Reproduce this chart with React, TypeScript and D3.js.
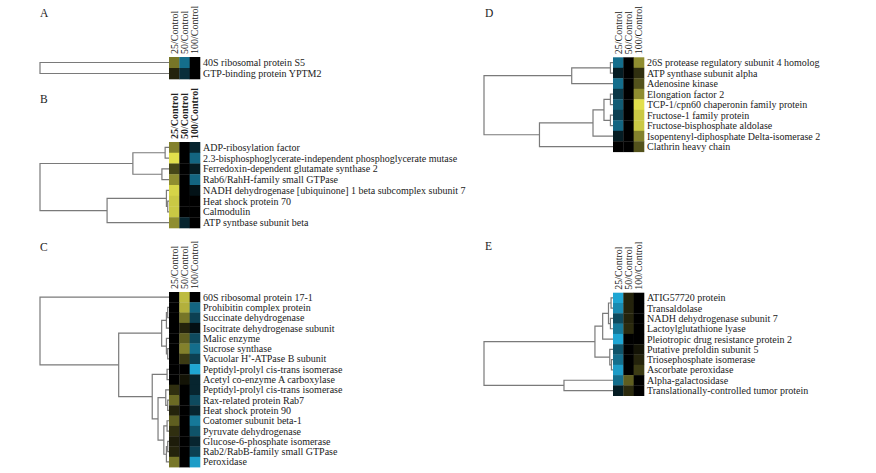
import * as d3 from 'd3'

type Node = number | [number, Node, Node]

const conditions = ['25/Control', '50/Control', '100/Control']

// A
const proteinsA = ['40S ribosomal protein S5', 'GTP-binding protein YPTM2']
const valuesA = [[0.5, -0.6, 0], [0.15, -0.25, 0]]
const treeA: Node = [1, 0, 1]

// B
const proteinsB = [
  'ADP-ribosylation factor',
  '2.3-bisphosphoglycerate-independent phosphoglycerate mutase',
  'Ferredoxin-dependent glutamate synthase 2',
  'Rab6/RahH-family small GTPase',
  'NADH dehydrogenase [ubiquinone] 1 beta subcomplex subunit 7',
  'Heat shock protein 70',
  'Calmodulin',
  'ATP syntbase subunit beta'
]
const valuesB = [
  [0.55, 0, -0.2], [0.95, 0, -0.55], [0.3, 0, -0.15], [0.6, 0, -0.55],
  [0.9, 0, -0.1], [0.85, 0, 0], [0.85, 0, 0], [0.6, -0.2, 0]
]
const treeB: Node = [1, [0.28, [0.03, 0, 1], [0.055, 2, 3]], [0.48, [0.02, 4, [0.01, 5, 6]], 7]]

// C
const proteinsC = [
  '60S ribosomal protein 17-1',
  'Prohibitin complex protein',
  'Succinate dehydrogenase',
  'Isocitrate dehydrogenase subunit',
  'Malic enzyme',
  'Sucrose synthase',
  'Vacuolar H\u207A-ATPase B subunit',
  'Peptidyl-prolyl cis-trans isomerase',
  'Acetyl co-enzyme A carboxylase',
  'Peptidyl-prolyl cis-trans isomerase',
  'Rax-related protein Rab7',
  'Heat shock protein 90',
  'Coatomer subunit beta-1',
  'Pyruvate dehydrogenase',
  'Glucose-6-phosphate isomerase',
  'Rab2/RabB-family small GTPase',
  'Peroxidase'
]
const valuesC = [
  [0, 0.8, 0], [0, 0.75, -0.55], [0, 0.5, -0.35], [0, 0.15, -0.08], [0, 0.4, -0.4],
  [0, 0.55, -0.6], [0, 0.25, -0.35], [0, 0, -0.9], [0, 0.08, -0.2], [0.2, 0, -0.2],
  [0.45, 0, -0.4], [0.15, 0, -0.2], [0.4, 0, -0.65], [0.2, 0, -0.45], [0.12, 0, -0.2],
  [0.15, 0, -0.35], [0.5, 0, -0.85]
]
const treeC: Node = [1, 0, [0.39,
  [0.057, [0.02, [0.01, 1, 2], 3], [0.02, 4, [0.01, 5, 6]]],
  [0.13, [0.015, 7, 8], [0.085, [0.025, 9, [0.01, 10, 11]], [0.04, [0.015, 12, 13], [0.02, [0.01, 14, 15], 16]]]]
]]

// D
const proteinsD = [
  '26S protease regulatory subunit 4 homolog',
  'ATP synthase subunit alpha',
  'Adenosine kinase',
  'Elongation factor 2',
  'TCP-1/cpn60 chaperonin family protein',
  'Fructose-1 family protein',
  'Fructose-bisphosphate aldolase',
  'Isopentenyl-diphosphate Delta-isomerase 2',
  'Clathrin heavy chain'
]
const valuesD = [
  [-0.6, 0, 0.6], [-0.15, 0, 0.2], [-0.6, 0, 0.35], [-0.3, 0, 0.6], [-0.5, 0, 0.95],
  [-0.35, 0, 0.85], [-0.55, 0, 0.85], [-0.15, 0, 0.55], [0, 0, 0.35]
]
const treeD: Node = [1, [0.32, [0.02, 0, 1], 2], [0.57, [0.155, [0.07, [0.02, 3, 4], [0.02, 5, 6]], 7], 8]]

// E
const proteinsE = [
  'ATIG57720 protein',
  'Transaldolase',
  'NADH dehydrogenase subunit 7',
  'Lactoylglutathione lyase',
  'Pleiotropic drug resistance protein 2',
  'Putative prefoldin subunit 5',
  'Triosephosphate isomerase',
  'Ascorbate peroxidase',
  'Alpha-galactosidase',
  'Translationally-controlled tumor protein'
]
const valuesE = [
  [-0.9, 0.15, 0], [-0.75, 0.15, 0], [-0.4, 0.15, 0], [-0.65, 0.18, 0], [-0.9, 0, 0],
  [-0.45, 0, 0.08], [-0.6, 0, 0.15], [-0.85, 0, 0.25], [-0.6, 0.4, 0], [-0.15, 0.18, 0]
]
const treeE: Node = [1, [0.14, [0.08, [0.035, [0.015, 0, 1], [0.02, 2, 3]], 4], [0.025, 5, [0.012, 6, 7]]], [0.38, 8, 9]]

const color = d3.scaleLinear<string>()
  .domain([-1, 0, 1])
  .range(['#22b8ea', '#000000', '#eeeb50'])

const FONT = '"Liberation Serif", "Times New Roman", serif'

interface PanelProps {
  letter: string
  letterX: number
  letterY: number
  heatLeft: number
  top: number
  rowH: number
  rootX: number
  names: string[]
  values: number[][]
  tree: Node
  boldHeader?: boolean
}

const Panel = (p: PanelProps) => {
  const rows = p.names.map((_, i) => i)
  const y = d3.scaleBand<number>().domain(rows).range([p.top, p.top + rows.length * p.rowH])
  const x = d3.scaleBand<string>().domain(conditions).range([p.heatLeft, p.heatLeft + 31])
  const h = d3.scaleLinear().domain([0, 1]).range([p.heatLeft, p.rootX])

  const paths: string[] = []
  const walk = (n: Node): { x: number, y: number } => {
    if (typeof n === 'number') return { x: p.heatLeft, y: y(n)! + y.bandwidth() / 2 }
    const a = walk(n[1])
    const b = walk(n[2])
    const nx = h(n[0])
    paths.push(`M${a.x},${a.y}H${nx}V${b.y}H${b.x}`)
    return { x: nx, y: (a.y + b.y) / 2 }
  }
  walk(p.tree)

  return (
    <g>
      <text x={p.letterX} y={p.letterY} fontSize={11.5} fontFamily={FONT} fill="#222">{p.letter}</text>
      {paths.map((d, i) => (
        <path key={i} d={d} fill="none" stroke="#7a7a7a" strokeWidth={1.2} />
      ))}
      {p.values.map((row, i) => row.map((v, j) => (
        <rect key={`${i}-${j}`} x={x(conditions[j])} y={y(i)} width={x.bandwidth() + 0.3}
          height={y.bandwidth() + 0.3} fill={color(v)} />
      )))}
      {conditions.map(c => (
        <text key={c} transform={`translate(${x(c)! + x.bandwidth() / 2 + 3.5},${p.top - 3}) rotate(-90)`}
          fontSize={10} fontFamily={FONT} fontWeight={p.boldHeader ? 'bold' : 'normal'} fill="#222">{c}</text>
      ))}
      {p.names.map((n, i) => (
        <text key={i} x={p.heatLeft + 34} y={y(i)! + y.bandwidth() / 2} dy="0.35em"
          fontSize={10} fontFamily={FONT} fill="#222">{n}</text>
      ))}
    </g>
  )
}

const App = () => (
  <div style={{ position: 'absolute', left: 0, top: 0 }}>
    <svg width={876} height={473} style={{ display: 'block', background: '#fff' }}>
      <Panel letter="A" letterX={40} letterY={17} heatLeft={169} top={57} rowH={11} rootX={40}
        names={proteinsA} values={valuesA} tree={treeA} />
      <Panel letter="B" letterX={40} letterY={103} heatLeft={169} top={142} rowH={10.75} rootX={40}
        names={proteinsB} values={valuesB} tree={treeB} boldHeader />
      <Panel letter="C" letterX={40} letterY={251} heatLeft={169} top={292} rowH={10.3} rootX={40}
        names={proteinsC} values={valuesC} tree={treeC} />
      <Panel letter="D" letterX={485} letterY={17} heatLeft={613} top={57.3} rowH={10.5} rootX={484}
        names={proteinsD} values={valuesD} tree={treeD} />
      <Panel letter="E" letterX={485} letterY={250} heatLeft={613} top={292.7} rowH={10.3} rootX={484}
        names={proteinsE} values={valuesE} tree={treeE} />
    </svg>
  </div>
)

export default App
